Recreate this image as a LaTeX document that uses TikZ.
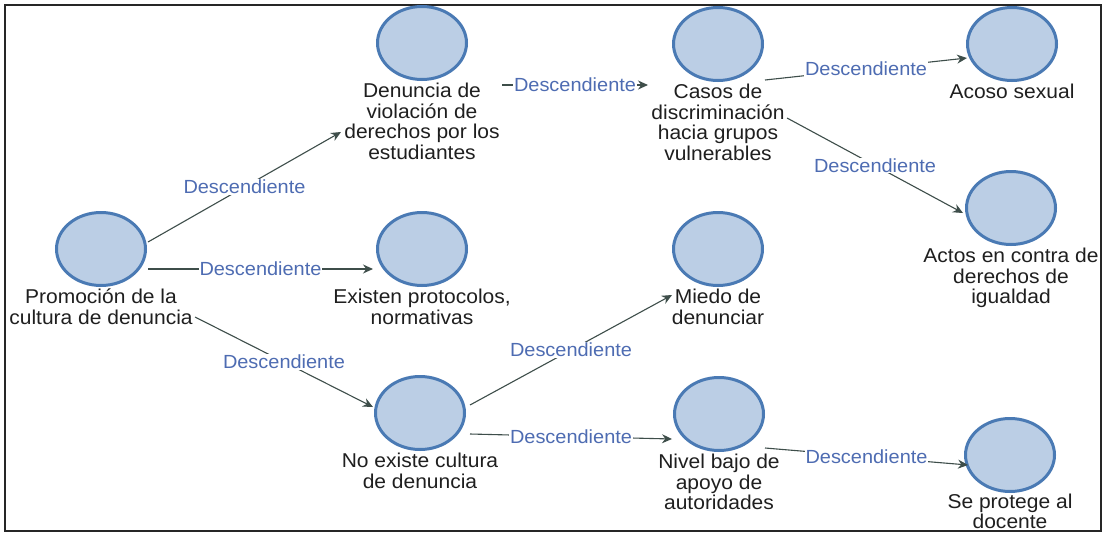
\documentclass[tikz,border=0pt]{standalone}
\usepackage{fontspec}
\setmainfont{Liberation Sans}[FakeStretch=1.05]
\usetikzlibrary{shapes.geometric,calc,arrows.meta}
\definecolor{cfill}{RGB}{187,206,229}
\definecolor{cbord}{RGB}{74,122,180}
\definecolor{lblue}{RGB}{78,108,178}
\definecolor{edgec}{RGB}{62,78,74}
\begin{document}
\begin{tikzpicture}[x=1pt,y=-1pt,
  concept/.style={ellipse,draw=cbord,fill=cfill,line width=3pt,minimum width=89pt,minimum height=73pt,inner sep=0pt},
  caption/.style={anchor=north,align=center,inner sep=0pt,font=\fontsize{20}{20.5}\selectfont,text=black!88},
  rel/.style={draw=edgec,line width=1.1pt,-{Stealth[length=10pt,width=9pt]}},
  lab/.style={fill=white,inner sep=0.8pt,text=lblue,font=\fontsize{19}{20}\selectfont}]
\useasboundingbox (0,0) rectangle (1105,533);
\fill[white] (0,0) rectangle (1105,533);
\draw[line width=2pt,black!85] (5,5) rectangle (1101,531);

\node[concept] (c1) at (101,249) {};
\node[concept] (c2) at (422,43) {};
\node[concept] (c3) at (422,249) {};
\node[concept] (c4) at (420,413) {};
\node[concept] (c5) at (718,44) {};
\node[concept] (c6) at (718,249) {};
\node[concept] (c7) at (719,414) {};
\node[concept] (c8) at (1012,44) {};
\node[concept] (c9) at (1011,208) {};
\node[concept] (c10) at (1010,455) {};

\node[caption] (t1) at ($(c1.south)+(0,2)$) {Promoción de la\\cultura de denuncia};
\node[caption] (t2) at ($(c2.south)+(0,2)$) {Denuncia de\\violación de\\derechos por los\\estudiantes};
\node[caption] (t3) at ($(c3.south)+(0,2)$) {Existen protocolos,\\normativas};
\node[caption] (t4) at ($(c4.south)+(0,2)$) {No existe cultura\\de denuncia};
\node[caption] (t5) at ($(c5.south)+(0,2)$) {Casos de\\discriminación\\hacia grupos\\vulnerables};
\node[caption] (t6) at ($(c6.south)+(0,2)$) {Miedo de\\denunciar};
\node[caption] (t7) at ($(c7.south)+(0,2)$) {Nivel bajo de\\apoyo de\\autoridades};
\node[caption] (t8) at ($(c8.south)+(0,2)$) {Acoso sexual};
\node[caption] (t9) at ($(c9.south)+(0,2)$) {Actos en contra de\\derechos de\\igualdad};
\node[caption,font=\fontsize{20}{19.5}\selectfont] (t10) at ($(c10.south)+(0,1)$) {Se protege al\\docente};

\draw[rel] ($(c1)+(47,-7)$) -- node[lab]{Descendiente} ($(c2)+(-81,89)$);
\draw[rel] ($(c1)+(47,20)$) -- node[lab]{Descendiente} ($(c3)+(-49,20)$);
\draw[rel] ($(c1)+(94,68)$) -- node[lab]{Descendiente} ($(c4)+(-47,-6)$);
\draw[rel] ($(c2)+(80,42)$) -- node[lab]{Descendiente} ($(c5)+(-70,41)$);
\draw[rel] ($(c5)+(47,36)$) -- node[lab]{Descendiente} ($(c8)+(-45,14)$);
\draw[rel] ($(c5)+(69,74)$) -- node[lab]{Descendiente} ($(c9)+(-48,5)$);
\draw[rel] ($(c4)+(50,-8)$) -- node[lab]{Descendiente} ($(c6)+(-46,46)$);
\draw[rel] ($(c4)+(50,21)$) -- node[lab]{Descendiente} ($(c7)+(-47,25)$);
\draw[rel] ($(c7)+(46,34)$) -- node[lab]{Descendiente} ($(c10)+(-42,10)$);
\end{tikzpicture}
\end{document}
